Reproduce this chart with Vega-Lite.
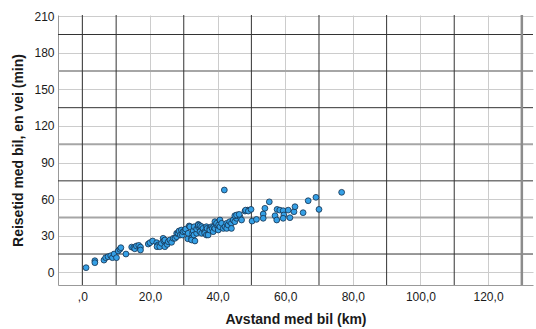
{
  "$schema": "https://vega.github.io/schema/vega-lite/v6.json",
  "autosize": {"type": "none"},
  "width": 475,
  "height": 270,
  "padding": {"left": 58, "top": 15, "right": 3, "bottom": 44},
  "background": "white",
  "config": {
    "view": {"stroke": null},
    "axis": {"labelFont": "Liberation Sans", "titleFont": "Liberation Sans", "labelColor": "#1a1a1a", "titleColor": "#1a1a1a", "labelFontSize": 12, "titleFontSize": 14, "titleFontWeight": "bold", "labelOverlap": false, "grid": true, "gridColor": "#cccccc", "gridWidth": 1, "ticks": false, "domainColor": "#999999", "domainWidth": 1},
    "axisX": {"labelPadding": 6, "titlePadding": 10},
    "axisY": {"labelPadding": 4, "titlePadding": 8}
  },
  "datasets": {
    "ydark": [{"v": 15}, {"v": 75}, {"v": 135}, {"v": 195}],
    "ymid": [{"v": 45}, {"v": 105}, {"v": 165}],
    "xdark": [{"v": 0}, {"v": 10}, {"v": 30}, {"v": 50}, {"v": 70}, {"v": 90}, {"v": 110}],
    "xmid": [{"v": 130}],
    "pts": [
      {"km": 1.1, "min": 3.8}, {"km": 3.7, "min": 9.5}, {"km": 3.7, "min": 7.9}, {"km": 6.4, "min": 10}, {"km": 6.9, "min": 12},
      {"km": 7.6, "min": 12.8}, {"km": 8.4, "min": 13.6}, {"km": 8.9, "min": 12}, {"km": 9.4, "min": 15}, {"km": 10.1, "min": 12},
      {"km": 10.6, "min": 17.5}, {"km": 11.1, "min": 18.9}, {"km": 11.4, "min": 20.2}, {"km": 12.9, "min": 15}, {"km": 14.6, "min": 20.7},
      {"km": 15.2, "min": 20.2}, {"km": 15.5, "min": 19.3}, {"km": 16, "min": 21.6}, {"km": 16.7, "min": 22.1}, {"km": 17.2, "min": 20.7},
      {"km": 17.2, "min": 18.3},
      {"km": 19.5, "min": 23.2}, {"km": 20, "min": 24.3}, {"km": 20.8, "min": 25.7}, {"km": 22, "min": 24.3}, {"km": 22.4, "min": 22.4},
      {"km": 22.1, "min": 21}, {"km": 22.9, "min": 21}, {"km": 23.4, "min": 23.8}, {"km": 23.9, "min": 27.9}, {"km": 24.1, "min": 25.7},
      {"km": 24.4, "min": 21}, {"km": 24.4, "min": 26.5}, {"km": 25.1, "min": 22.9}, {"km": 25.4, "min": 25.1}, {"km": 25.9, "min": 26.5},
      {"km": 26.4, "min": 24.6}, {"km": 26.9, "min": 27.9}, {"km": 27.4, "min": 27.9}, {"km": 27.9, "min": 29.2}, {"km": 27.9, "min": 32},
      {"km": 28.3, "min": 32}, {"km": 28.6, "min": 33.9}, {"km": 29, "min": 30.6}, {"km": 29.3, "min": 34.7}, {"km": 29.6, "min": 30.6},
      {"km": 29.8, "min": 33.3}, {"km": 30.3, "min": 33.9}, {"km": 30.6, "min": 35.5}, {"km": 31.2, "min": 27.5}, {"km": 31.3, "min": 32},
      {"km": 31.6, "min": 38}, {"km": 31.8, "min": 37.4}, {"km": 32.3, "min": 27.9}, {"km": 32.3, "min": 26.5}, {"km": 32.6, "min": 32},
      {"km": 32.8, "min": 33.9}, {"km": 33, "min": 30.6}, {"km": 33.1, "min": 37.4}, {"km": 33.3, "min": 25.7}, {"km": 33.8, "min": 32},
      {"km": 33.8, "min": 35.5}, {"km": 34.3, "min": 37.4}, {"km": 34.3, "min": 39.3},
      {"km": 34.3, "min": 38.8}, {"km": 34.8, "min": 33.3}, {"km": 34.8, "min": 38.2}, {"km": 35.3, "min": 37.4}, {"km": 35.3, "min": 32},
      {"km": 35.7, "min": 36}, {"km": 36.2, "min": 33.3}, {"km": 36.2, "min": 32}, {"km": 36.7, "min": 37.4}, {"km": 36.7, "min": 30.6},
      {"km": 36.9, "min": 36}, {"km": 37.2, "min": 30.6}, {"km": 37.7, "min": 36}, {"km": 37.7, "min": 34.7}, {"km": 38.2, "min": 37.4},
      {"km": 38.4, "min": 36}, {"km": 38.7, "min": 33.3}, {"km": 38.9, "min": 37.4}, {"km": 39.2, "min": 36}, {"km": 39.2, "min": 41.5},
      {"km": 39.7, "min": 38.8}, {"km": 39.7, "min": 40.2}, {"km": 40.2, "min": 34.7}, {"km": 40.3, "min": 38.8}, {"km": 40.7, "min": 37.4},
      {"km": 40.7, "min": 42.9}, {"km": 41.2, "min": 40.2}, {"km": 41.7, "min": 36}, {"km": 42.2, "min": 37.4}, {"km": 42.7, "min": 40.2},
      {"km": 42.7, "min": 36}, {"km": 43.1, "min": 38.8}, {"km": 43.6, "min": 41.5}, {"km": 44.1, "min": 40.2}, {"km": 44.1, "min": 36},
      {"km": 44.6, "min": 42.9}, {"km": 45.1, "min": 41.5}, {"km": 45.6, "min": 44.3}, {"km": 46.1, "min": 47}, {"km": 46.6, "min": 45.6},
      {"km": 48.1, "min": 50.2}, {"km": 48.9, "min": 51},
      {"km": 45.1, "min": 46.4}, {"km": 45.6, "min": 47}, {"km": 46.4, "min": 47.5}, {"km": 47.1, "min": 42.9}, {"km": 48.3, "min": 51},
      {"km": 49.1, "min": 50.2}, {"km": 49.9, "min": 51.6}, {"km": 50.2, "min": 42}, {"km": 51.5, "min": 43.4}, {"km": 53.5, "min": 47.8},
      {"km": 53.5, "min": 44.3}, {"km": 54, "min": 52.5}, {"km": 55.3, "min": 57.8}, {"km": 57, "min": 46.4}, {"km": 57.5, "min": 42.9},
      {"km": 57.6, "min": 51.6}, {"km": 58.4, "min": 51}, {"km": 59.4, "min": 50.5}, {"km": 59.6, "min": 47}, {"km": 59.4, "min": 44.3},
      {"km": 60.9, "min": 51}, {"km": 61.4, "min": 44.8}, {"km": 62.6, "min": 49.7}, {"km": 62.9, "min": 53.8}, {"km": 65.3, "min": 48.9},
      {"km": 66.8, "min": 58.7}, {"km": 69.1, "min": 61.5}, {"km": 70, "min": 51.6}, {"km": 76.7, "min": 65.6}, {"km": 42, "min": 67.5}
    ]
  },
  "layer": [
    {
      "data": {"name": "ydark"},
      "mark": {"type": "rule", "color": "#333333", "strokeWidth": 1},
      "encoding": {"y": {"field": "v", "type": "quantitative", "title": "Reisetid med bil, en vei (min)", "scale": {"domain": [-10.4, 211], "nice": false, "zero": false}, "axis": {"values": [0, 30, 60, 90, 120, 150, 180, 210]}}}
    },
    {
      "data": {"name": "ymid"},
      "mark": {"type": "rule", "color": "#a6a6a6", "strokeWidth": 2},
      "encoding": {"y": {"field": "v", "type": "quantitative", "title": "Reisetid med bil, en vei (min)", "axis": {"values": [0, 30, 60, 90, 120, 150, 180, 210]}}}
    },
    {
      "data": {"name": "xdark"},
      "mark": {"type": "rule", "color": "#333333", "strokeWidth": 1},
      "encoding": {"x": {"field": "v", "type": "quantitative", "title": "Avstand med bil (km)", "scale": {"domain": [-7.2, 133.3], "nice": false, "zero": false}, "axis": {"values": [0, 20, 40, 60, 80, 100, 120], "labelExpr": "datum.value == 0 ? ',0' : replace(format(datum.value, '.1f'), '.', ',')"}}}
    },
    {
      "data": {"name": "xmid"},
      "mark": {"type": "rule", "color": "#8c8c8c", "strokeWidth": 2.5},
      "encoding": {"x": {"field": "v", "type": "quantitative", "title": "Avstand med bil (km)", "axis": {"values": [0, 20, 40, 60, 80, 100, 120], "labelExpr": "datum.value == 0 ? ',0' : replace(format(datum.value, '.1f'), '.', ',')"}}}
    },
    {
      "data": {"name": "pts"},
      "mark": {"type": "point", "shape": "circle", "filled": true, "size": 34, "fill": "#35a0e6", "stroke": "#14304d", "strokeWidth": 0.8, "opacity": 1},
      "encoding": {
        "x": {"field": "km", "type": "quantitative", "title": "Avstand med bil (km)", "axis": {"values": [0, 20, 40, 60, 80, 100, 120], "labelExpr": "datum.value == 0 ? ',0' : replace(format(datum.value, '.1f'), '.', ',')"}},
        "y": {"field": "min", "type": "quantitative", "title": "Reisetid med bil, en vei (min)", "axis": {"values": [0, 30, 60, 90, 120, 150, 180, 210]}}
      }
    }
  ]
}
